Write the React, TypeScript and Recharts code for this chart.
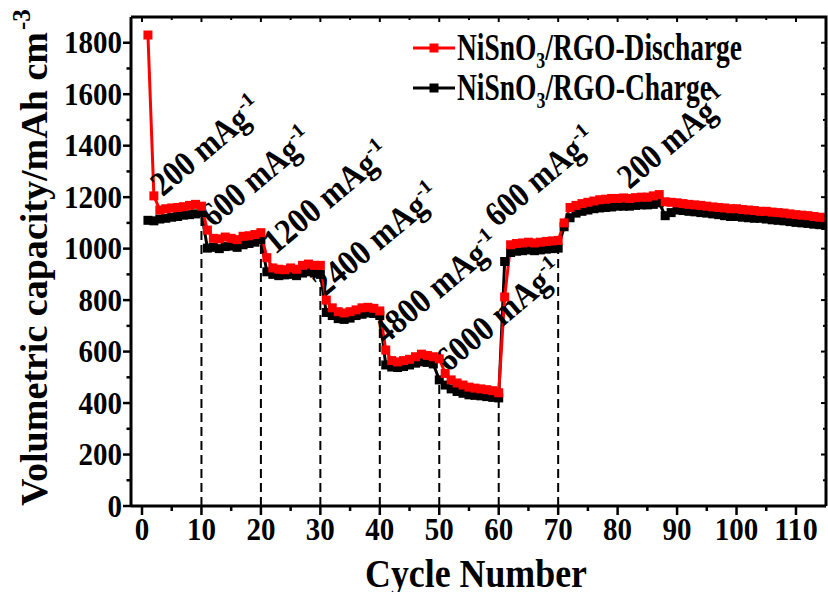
import React from "react";
import { LineChart, Line, XAxis, YAxis, ReferenceLine, ReferenceDot, Legend } from "recharts";

// ─── Data ────────────────────────────────────────────────────────────────────
const dischargeCapacity = [
  1830, 1205, 1150, 1155, 1158, 1160, 1163, 1168, 1172, 1165,
  1072, 1040, 1038, 1045, 1040, 1035, 1048, 1050, 1055, 1062,
  965, 925, 920, 918, 925, 920, 935, 940, 935, 935,
  800, 770, 755, 750, 755, 762, 770, 772, 768, 758,
  606, 565, 560, 565, 570, 580, 590, 585, 580, 572,
  515, 490, 478, 470, 462, 458, 455, 452, 448, 440,
  812, 1015, 1020, 1022, 1025, 1022, 1025, 1028, 1030, 1032,
  1100, 1160, 1168, 1175, 1180, 1185, 1190, 1192, 1195, 1195,
  1197, 1195, 1198, 1200, 1200, 1205, 1210, 1182, 1180, 1178,
  1175, 1172, 1170, 1168, 1165, 1162, 1160, 1158, 1155, 1155,
  1152, 1150, 1148, 1145, 1145, 1142, 1140, 1138, 1135, 1132,
  1130, 1128, 1125, 1122, 1120,
]

const chargeCapacity = [
  1110, 1108, 1115, 1118, 1122, 1125, 1130, 1132, 1135, 1140,
  1002, 1005, 1000, 1008, 1010, 1005, 1015, 1020, 1025, 1035,
  910, 900, 895, 898, 900, 895, 905, 910, 905, 900,
  752, 740, 728, 725, 730, 740, 745, 750, 748, 740,
  548, 540, 538, 542, 548, 555, 560, 558, 552, 490,
  470, 455, 445, 438, 432, 430, 428, 425, 422, 420,
  950, 985, 990, 992, 995, 992, 995, 998, 1000, 1002,
  1085, 1120, 1138, 1145, 1150, 1155, 1158, 1160, 1162, 1165,
  1165, 1165, 1168, 1170, 1170, 1172, 1178, 1128, 1140, 1150,
  1148, 1145, 1143, 1140, 1138, 1135, 1132, 1128, 1125, 1125,
  1122, 1120, 1118, 1118, 1115, 1112, 1110, 1108, 1105, 1102,
  1100, 1098, 1095, 1093, 1090,
]

// cycle number is just the 1-based index of each measurement
const cycles = dischargeCapacity.map((_, i) => i + 1)

// cycles where the current density was switched
const rateSwitchCycles = [10, 20, 30, 40, 50, 60, 70]

// current density labels and where they sit (cycle, capacity)
const rateLabels = ["200", "600", "1200", "2400", "4800", "6000", "600", "200"]
const rateLabelCycle = [3.5, 12, 22.4, 30.8, 40.9, 51.5, 59.7, 82]
const rateLabelCapacity = [1200, 1080, 975, 812, 625, 517, 1080, 1228]

const xTicks = [0, 5, 10, 15, 20, 25, 30, 35, 40, 45, 50, 55, 60, 65, 70, 75, 80, 85, 90, 95, 100, 105, 110]
const yTicks = [0, 100, 200, 300, 400, 500, 600, 700, 800, 900, 1000, 1100, 1200, 1300, 1400, 1500, 1600, 1700, 1800]

const rows = cycles.map((c, i) => ({
  cycle: c,
  discharge: dischargeCapacity[i],
  charge: chargeCapacity[i],
}))

// ─── Layout / styles ─────────────────────────────────────────────────────────
const FONT = "'Liberation Serif', 'Times New Roman', serif"
const RED = "#ff0000"
const BLACK = "#000000"
const X_DOMAIN = [-1.85, 115.05]
const Y_DOMAIN = [0, 1900]
const W = 828
const H = 592
const M_TOP = 17
const M_RIGHT = 2
const Y_AXIS_W = 131
const X_AXIS_H = 86
const PLOT_RIGHT = W - M_RIGHT
const PLOT_BOTTOM = H - X_AXIS_H

// ─── Ticks ───────────────────────────────────────────────────────────────────
// the original plot is a closed box with small inward ticks mirrored on the
// top and right edges, so each tick also draws its mirror
function BottomTick({ x, y, payload }: any) {
  const major = payload.value % 10 === 0
  return (
    <g>
      <line x1={x} x2={x} y1={y} y2={y + (major ? 9 : 5)} stroke={BLACK} strokeWidth={2.5} />
      <line x1={x} x2={x} y1={M_TOP} y2={M_TOP + (major ? 5 : 3)} stroke={BLACK} strokeWidth={2} />
      {major && (
        <text x={x} y={y + 34} textAnchor="middle" fontFamily={FONT} fontWeight="bold" fontSize={31} fill={BLACK}
          textLength={String(payload.value).length * 14.5} lengthAdjust="spacingAndGlyphs">
          {payload.value}
        </text>
      )}
    </g>
  )
}

function LeftTick({ x, y, payload }: any) {
  const major = payload.value % 200 === 0
  return (
    <g>
      <line x1={x} x2={x - (major ? 8 : 4.5)} y1={y} y2={y} stroke={BLACK} strokeWidth={2.5} />
      <line x1={PLOT_RIGHT} x2={PLOT_RIGHT - (major ? 5 : 3)} y1={y} y2={y} stroke={BLACK} strokeWidth={2} />
      {major && (
        <text x={x - 9} y={y + 10.5} textAnchor="end" fontFamily={FONT} fontWeight="bold" fontSize={31} fill={BLACK}
          textLength={String(payload.value).length * 14.5} lengthAdjust="spacingAndGlyphs">
          {payload.value}
        </text>
      )}
    </g>
  )
}

// ─── Marks ───────────────────────────────────────────────────────────────────
function SquareDot({ cx, cy, fill }: any) {
  if (cx == null || cy == null) return null
  return <rect x={cx - 4.5} y={cy - 4.5} width={9} height={9} fill={fill} />
}

function RateLabel({ cx, cy, text }: any) {
  return (
    <text
      x={cx}
      y={cy}
      transform={`rotate(-40 ${cx} ${cy})`}
      fontFamily={FONT}
      fontWeight="bold"
      fontSize={35}
      fill={BLACK}
    >
      <tspan textLength={text.length === 3 ? 116 : 136} lengthAdjust="spacingAndGlyphs">
        {text} mAg
      </tspan>
      <tspan dy={-14} fontSize={20}>-1</tspan>
    </text>
  )
}

// ─── Titles / legend / frame ─────────────────────────────────────────────────
function YTitle() {
  return (
    <g fontFamily={FONT} fontWeight="bold" fill={BLACK}>
      <text transform="translate(47,506) rotate(-90)" fontSize={37} textLength={474} lengthAdjust="spacingAndGlyphs">
        Volumetric capacity/mAh cm
      </text>
      <text transform="translate(30,30) rotate(-90)" fontSize={25}>
        -3
      </text>
    </g>
  )
}

function XTitle() {
  return (
    <text x={365} y={587} fontFamily={FONT} fontWeight="bold" fontSize={41} fill={BLACK} textLength={222} lengthAdjust="spacingAndGlyphs">
      Cycle Number
    </text>
  )
}

function LegendBox() {
  const entries = [
    { color: RED, name: "Discharge", lineY: 28, base: 40, len: 285 },
    { color: BLACK, name: "Charge", lineY: 68, base: 80, len: 255 },
  ]
  return (
    <svg width={360} height={95} style={{ overflow: "visible" }}>
      {entries.map((e) => (
        <g key={e.name}>
          <line x1={8} x2={50} y1={e.lineY} y2={e.lineY} stroke={e.color} strokeWidth={3} />
          <rect x={24.5} y={e.lineY - 4.5} width={9} height={9} fill={e.color} />
          <text
            x={52}
            y={e.base}
            fontFamily={FONT}
            fontWeight="bold"
            fontSize={37}
            fill={BLACK}
            textLength={e.len}
            lengthAdjust="spacingAndGlyphs"
          >
            NiSnO
            <tspan dy={8} fontSize={24}>3</tspan>
            <tspan dy={-8}>/RGO-{e.name}</tspan>
          </text>
        </g>
      ))}
    </svg>
  )
}

// top and right edges of the box (left / bottom come from the axes)
function Frame() {
  return (
    <svg
      width={W}
      height={H}
      style={{ position: "absolute", left: 0, top: 0, pointerEvents: "none" }}
    >
      <path
        d={`M${Y_AXIS_W},${M_TOP} L${PLOT_RIGHT},${M_TOP} L${PLOT_RIGHT},${PLOT_BOTTOM}`}
        fill="none"
        stroke={BLACK}
        strokeWidth={3}
      />
    </svg>
  )
}

// ─── Component ───────────────────────────────────────────────────────────────
export default function App() {
  return (
    <div style={{ position: "absolute", left: 0, top: 0, width: W, height: H, background: "#fff" }}>
      <LineChart width={W} height={H} data={rows} margin={{ top: M_TOP, right: M_RIGHT, bottom: 0, left: 0 }}>
        <XAxis
          dataKey="cycle"
          type="number"
          domain={X_DOMAIN}
          allowDataOverflow
          ticks={xTicks}
          interval={0}
          height={X_AXIS_H}
          tickSize={0}
          tickMargin={0}
          tickLine={false}
          tick={<BottomTick />}
          axisLine={{ stroke: BLACK, strokeWidth: 3 }}
          label={<XTitle />}
        />
        <YAxis
          type="number"
          domain={Y_DOMAIN}
          allowDataOverflow
          ticks={yTicks}
          interval={0}
          width={Y_AXIS_W}
          tickSize={0}
          tickMargin={0}
          tickLine={false}
          tick={<LeftTick />}
          axisLine={{ stroke: BLACK, strokeWidth: 3 }}
          label={<YTitle />}
        />

        {rateSwitchCycles.map((c) => (
          <ReferenceLine
            key={c}
            segment={[
              { x: c, y: 0 },
              { x: c, y: chargeCapacity[c - 1] },
            ]}
            stroke={BLACK}
            strokeWidth={2}
            strokeDasharray="9 5"
          />
        ))}

        <Line
          dataKey="charge"
          stroke={BLACK}
          strokeWidth={3}
          dot={<SquareDot fill={BLACK} />}
          activeDot={false}
          isAnimationActive={false}
        />
        <Line
          dataKey="discharge"
          stroke={RED}
          strokeWidth={3}
          dot={<SquareDot fill={RED} />}
          activeDot={false}
          isAnimationActive={false}
        />

        {rateLabels.map((t, i) => (
          <ReferenceDot
            key={i}
            x={rateLabelCycle[i]}
            y={rateLabelCapacity[i]}
            r={0}
            ifOverflow="visible"
            shape={(p: any) => <RateLabel cx={p.cx} cy={p.cy} text={t} />}
          />
        ))}

        <Legend
          layout="horizontal"
          verticalAlign="middle"
          align="center"
          wrapperStyle={{ position: "absolute", left: 405, top: 20, width: 360, height: 95 }}
          content={() => <LegendBox />}
        />
      </LineChart>
      <Frame />
    </div>
  )
}
